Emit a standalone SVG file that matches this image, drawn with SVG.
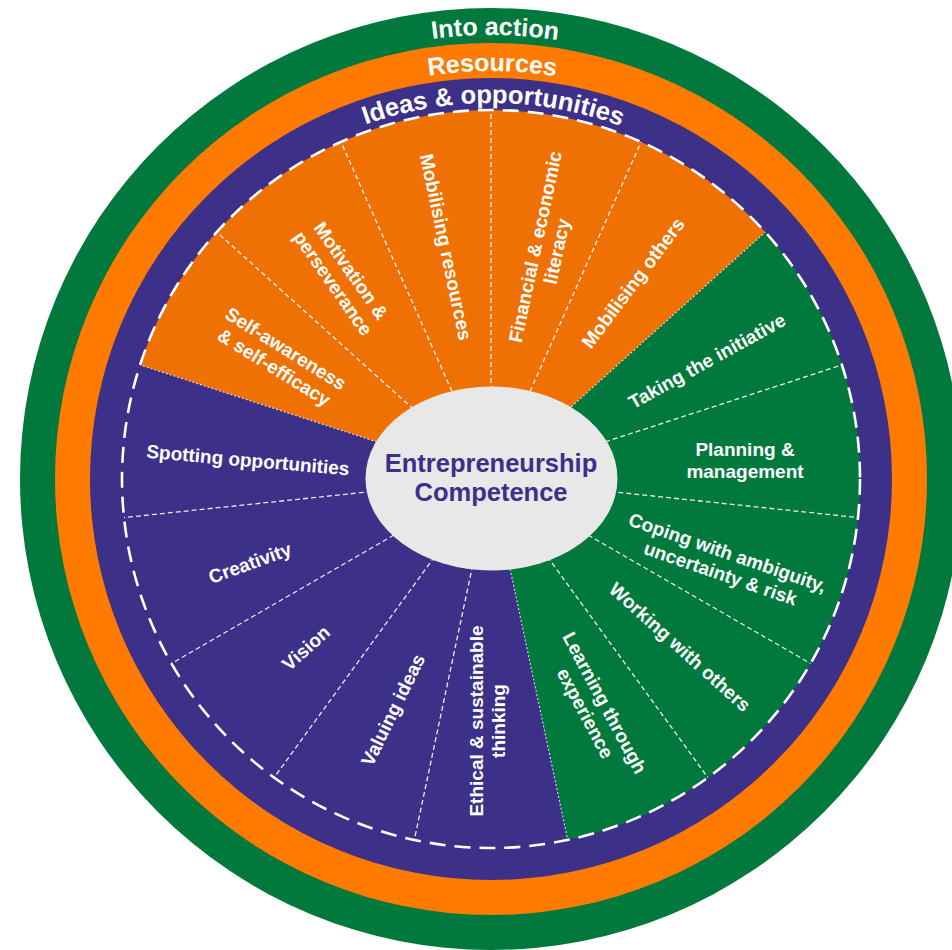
<svg xmlns="http://www.w3.org/2000/svg" width="952" height="950" viewBox="0 0 952 950">
<defs>
<style>
.lbl{font-family:"Liberation Sans",Arial,sans-serif;font-weight:bold;font-size:19px;fill:#fff;text-anchor:middle}
.ring{font-family:"Liberation Sans",Arial,sans-serif;font-weight:bold;font-size:25px;fill:#fff;text-anchor:middle}
.ctr{font-family:"Liberation Sans",Arial,sans-serif;font-weight:bold;font-size:25.5px;fill:#3D2F8A;text-anchor:middle}
.div{stroke:#fff;stroke-width:1.3;stroke-dasharray:5 3;fill:none;opacity:.9}
.gdiv{stroke:#fff;stroke-width:1.2;stroke-dasharray:2 2;fill:none;opacity:.75}
.or{fill:#EF7103}
.gr{fill:#02793C}
.pu{fill:#3C3089}
</style>
<path id="arcAction" d="M47,479 A444,444 0 0 1 935,479"/>
<path id="arcRes" d="M83,479 A408,408 0 0 1 899,479"/>
<path id="arcIdeas" d="M115,479 A376,376 0 0 1 867,479"/>
</defs>
<rect width="952" height="950" fill="#fff"/>
<g id="rings">
<g id="ring-into-action">
<circle cx="491" cy="479" r="471" fill="#02793C"/>
<text class="ring"><textPath href="#arcAction" startOffset="50.3%">Into action</textPath></text>
</g>
<g id="ring-resources">
<circle cx="491" cy="479" r="436" fill="#FF7A00"/>
<text class="ring"><textPath href="#arcRes" startOffset="50.1%">Resources</textPath></text>
</g>
<g id="ring-ideas">
<circle cx="491" cy="479" r="401" fill="#3C3089"/>
<text class="ring" style="font-size:25.5px"><textPath href="#arcIdeas" startOffset="50.2%">Ideas &amp; opportunities</textPath></text>
</g>
</g>
<g id="segments">
<g id="seg-self-awareness"><path class="or" d="M491,479 L216.78,232.09 A369,369 0 0 0 140.06,364.97 Z"/></g>
<g id="seg-motivation"><path class="or" d="M491,479 L340.91,141.9 A369,369 0 0 0 216.78,232.09 Z"/></g>
<g id="seg-mobilising-resources"><path class="or" d="M491,479 L491,110 A369,369 0 0 0 340.91,141.9 Z"/></g>
<g id="seg-financial"><path class="or" d="M491,479 L641.09,141.9 A369,369 0 0 0 491,110 Z"/></g>
<g id="seg-mobilising-others"><path class="or" d="M491,479 L765.22,232.09 A369,369 0 0 0 641.09,141.9 Z"/></g>
<g id="seg-taking-initiative"><path class="gr" d="M491,479 L841.94,364.97 A369,369 0 0 0 765.22,232.09 Z"/></g>
<g id="seg-planning"><path class="gr" d="M491,479 L857.98,517.57 A369,369 0 0 0 841.94,364.97 Z"/></g>
<g id="seg-coping"><path class="gr" d="M491,479 L810.56,663.5 A369,369 0 0 0 857.98,517.57 Z"/></g>
<g id="seg-working"><path class="gr" d="M491,479 L707.89,777.53 A369,369 0 0 0 810.56,663.5 Z"/></g>
<g id="seg-learning"><path class="gr" d="M491,479 L567.72,839.94 A369,369 0 0 0 707.89,777.53 Z"/></g>
<g id="seg-spotting"><path class="pu" d="M491,479 L140.06,364.97 A369,369 0 0 0 124.02,517.57 Z"/></g>
<g id="seg-creativity"><path class="pu" d="M491,479 L124.02,517.57 A369,369 0 0 0 171.44,663.5 Z"/></g>
<g id="seg-vision"><path class="pu" d="M491,479 L171.44,663.5 A369,369 0 0 0 274.11,777.53 Z"/></g>
<g id="seg-valuing"><path class="pu" d="M491,479 L274.11,777.53 A369,369 0 0 0 414.28,839.94 Z"/></g>
<g id="seg-ethical"><path class="pu" d="M491,479 L414.28,839.94 A369,369 0 0 0 567.72,839.94 Z"/></g>
</g>
<g id="connectors">
<line class="gdiv" x1="491" y1="479" x2="140.06" y2="364.97"/>
<line class="gdiv" x1="491" y1="479" x2="765.22" y2="232.09"/>
<line class="gdiv" x1="491" y1="479" x2="567.72" y2="839.94"/>
<line class="div" x1="491" y1="479" x2="216.78" y2="232.09"/>
<line class="div" x1="491" y1="479" x2="340.91" y2="141.9"/>
<line class="div" x1="491" y1="479" x2="491" y2="110"/>
<line class="div" x1="491" y1="479" x2="641.09" y2="141.9"/>
<line class="div" x1="491" y1="479" x2="841.94" y2="364.97"/>
<line class="div" x1="491" y1="479" x2="857.98" y2="517.57"/>
<line class="div" x1="491" y1="479" x2="810.56" y2="663.5"/>
<line class="div" x1="491" y1="479" x2="707.89" y2="777.53"/>
<line class="div" x1="491" y1="479" x2="124.02" y2="517.57"/>
<line class="div" x1="491" y1="479" x2="171.44" y2="663.5"/>
<line class="div" x1="491" y1="479" x2="274.11" y2="777.53"/>
<line class="div" x1="491" y1="479" x2="414.28" y2="839.94"/>
<circle cx="491" cy="479" r="369" fill="none" stroke="#fff" stroke-width="2.6" stroke-dasharray="16 9"/>
</g>
<g id="labels">
<text id="t-self-awareness" class="lbl" transform="translate(280,358) rotate(32)"><tspan x="0" y="-4.4">Self-awareness</tspan><tspan x="0" y="17.6">&amp; self-efficacy</tspan></text>
<text id="t-motivation" class="lbl" transform="translate(342,277) rotate(55)"><tspan x="0" y="-4.4">Motivation &amp;</tspan><tspan x="0" y="17.6">perseverance</tspan></text>
<text id="t-mobilising-resources" class="lbl" transform="translate(446,247) rotate(78)"><tspan x="0" y="6.6">Mobilising resources</tspan></text>
<text id="t-financial" class="lbl" transform="translate(546,249) rotate(-78)"><tspan x="0" y="-4.4">Financial &amp; economic</tspan><tspan x="0" y="17.6">literacy</tspan></text>
<text id="t-mobilising-others" class="lbl" transform="translate(633,283) rotate(-53)"><tspan x="0" y="6.6">Mobilising others</tspan></text>
<text id="t-taking-initiative" class="lbl" transform="translate(707,361) rotate(-29)"><tspan x="0" y="6.6">Taking the initiative</tspan></text>
<text id="t-planning" class="lbl" transform="translate(745,460)"><tspan x="0" y="-4.4">Planning &amp;</tspan><tspan x="0" y="17.6">management</tspan></text>
<text id="t-coping" class="lbl" transform="translate(724,563) rotate(19)"><tspan x="0" y="-4.4">Coping with ambiguity,</tspan><tspan x="0" y="17.6">uncertainty &amp; risk</tspan></text>
<text id="t-working" class="lbl" transform="translate(680,647) rotate(42)"><tspan x="0" y="6.6">Working with others</tspan></text>
<text id="t-learning" class="lbl" transform="translate(595,708) rotate(62)"><tspan x="0" y="-4.4">Learning through</tspan><tspan x="0" y="17.6">experience</tspan></text>
<text id="t-ethical" class="lbl" transform="translate(487,721) rotate(-90)"><tspan x="0" y="-4.4">Ethical &amp; sustainable</tspan><tspan x="0" y="17.6">thinking</tspan></text>
<text id="t-valuing" class="lbl" transform="translate(393,710) rotate(-64)"><tspan x="0" y="6.6">Valuing ideas</tspan></text>
<text id="t-vision" class="lbl" transform="translate(306,648) rotate(-42)"><tspan x="0" y="6.6">Vision</tspan></text>
<text id="t-creativity" class="lbl" transform="translate(250,563) rotate(-20)"><tspan x="0" y="6.6">Creativity</tspan></text>
<text id="t-spotting" class="lbl" transform="translate(248,460) rotate(5)"><tspan x="0" y="6.6">Spotting opportunities</tspan></text>
</g>
<g id="center">
<ellipse cx="491.5" cy="478.5" rx="126" ry="92" fill="#E8E8E8"/>
<text class="ctr" x="491" y="472">Entrepreneurship</text>
<text class="ctr" x="491" y="501">Competence</text>
</g>
</svg>
